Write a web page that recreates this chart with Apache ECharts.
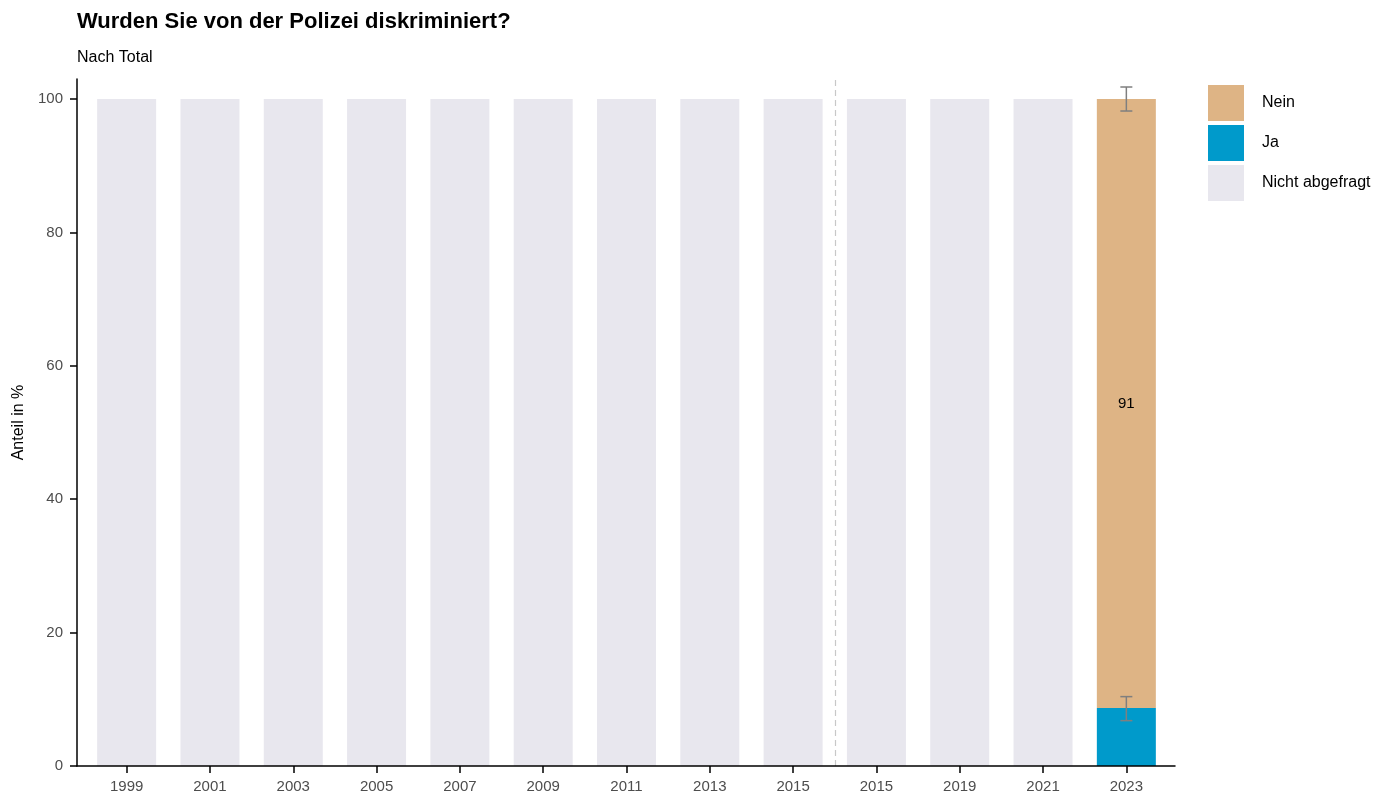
<!DOCTYPE html>
<html><head><meta charset="utf-8">
<script src="https://cdn.jsdelivr.net/npm/echarts@6/dist/echarts.min.js"></script>
<style>html,body{margin:0;padding:0;background:#fff}#c{width:1392px;height:797px}</style>
</head><body><div id="c"></div>
<script>
const categories = ['1999','2001','2003','2005','2007','2009','2011','2013','2015','2015','2019','2021','2023'];
const nichtAbgefragt = [100,100,100,100,100,100,100,100,100,100,100,100,null];
const ja = [null,null,null,null,null,null,null,null,null,null,null,null,8.7];
const nein = [null,null,null,null,null,null,null,null,null,null,null,null,91.3];
const jaErr = [[12, 6.8, 10.4]];
const neinErr = [[12, 98.2, 101.8]];
const yTicks = [0,20,40,60,80,100];
const separatorPos = 8.5;

const FONT = 'Liberation Sans, Arial, Helvetica, sans-serif';
const chart = echarts.init(document.getElementById('c'), null, {renderer:'canvas'});

function errRender(params, api){
  const x = api.value(0);
  const lo = api.coord([x, api.value(1)]);
  const hi = api.coord([x, api.value(2)]);
  const cap = 6;
  const st = {stroke:'#7f7f7f', lineWidth:1.5};
  return {type:'group', children:[
    {type:'line', shape:{x1:lo[0],y1:lo[1],x2:hi[0],y2:hi[1]}, style:st},
    {type:'line', shape:{x1:lo[0]-cap,y1:lo[1],x2:lo[0]+cap,y2:lo[1]}, style:st},
    {type:'line', shape:{x1:hi[0]-cap,y1:hi[1],x2:hi[0]+cap,y2:hi[1]}, style:st}
  ]};
}

const option = {
  animation:false,
  textStyle:{fontFamily:FONT},
  title:[
    {text:'Wurden Sie von der Polizei diskriminiert?', left:72, top:6, textStyle:{fontSize:22, fontWeight:'bold', color:'#000', fontFamily:FONT}},
    {text:'Nach Total', left:72, top:45, textStyle:{fontSize:16, fontWeight:'normal', color:'#000', fontFamily:FONT}}
  ],
  legend:{
    orient:'vertical', left:1203, top:80, itemWidth:36, itemHeight:36, itemGap:4, icon:'rect',
    data:['Nein','Ja','Nicht abgefragt'],
    textStyle:{fontSize:16, color:'#000', fontFamily:FONT, padding:[3,0,0,13]}
  },
  grid:[
    {left:77, right:217, top:79, bottom:31},
    {left:85, right:224, top:79, bottom:31}
  ],
  xAxis:[
    {gridIndex:0, type:'value', min:0, max:1, z:10, axisLine:{show:true, lineStyle:{color:'#000', width:1.5}}, axisTick:{show:false}, axisLabel:{show:false}, splitLine:{show:false}},
    {gridIndex:1, type:'category', data:categories, axisLine:{show:false},
      axisTick:{show:true, alignWithLabel:true, length:7, lineStyle:{color:'#000', width:1.5}},
      axisLabel:{fontSize:15, color:'#4d4d4d', margin:13, interval:0, fontFamily:FONT}},
    {gridIndex:1, type:'value', min:-0.5, max:12.5, show:false}
  ],
  yAxis:[
    {gridIndex:0, type:'value', min:0, max:103, z:10,
      name:'Anteil in %', nameLocation:'middle', nameGap:50, nameTextStyle:{fontSize:16, color:'#000', fontFamily:FONT},
      axisLine:{show:true, lineStyle:{color:'#000', width:1.5}},
      axisTick:{show:true, length:7, customValues:yTicks, lineStyle:{color:'#000', width:1.5}},
      axisLabel:{fontSize:15, color:'#4d4d4d', margin:14, customValues:yTicks, fontFamily:FONT},
      splitLine:{show:false}},
    {gridIndex:1, type:'value', min:0, max:103, show:false}
  ],
  series:[
    {name:'Nicht abgefragt', type:'bar', xAxisIndex:1, yAxisIndex:1, stack:'t', data:nichtAbgefragt, barWidth:59, itemStyle:{color:'#e8e7ee'}},
    {name:'Ja', type:'bar', xAxisIndex:1, yAxisIndex:1, stack:'t', data:ja, barWidth:59, itemStyle:{color:'#009acb'}},
    {name:'Nein', type:'bar', xAxisIndex:1, yAxisIndex:1, stack:'t', data:nein, barWidth:59, itemStyle:{color:'#deb485'},
      label:{show:true, position:'inside', fontSize:15, color:'#000', fontFamily:FONT, formatter:p=>Math.round(p.value)}},
    {name:'errJa', type:'custom', xAxisIndex:1, yAxisIndex:1, data:jaErr, renderItem:errRender, z:5},
    {name:'errNein', type:'custom', xAxisIndex:1, yAxisIndex:1, data:neinErr, renderItem:errRender, z:5},
    {name:'sep', type:'line', xAxisIndex:2, yAxisIndex:1, data:[], 
      markLine:{silent:true, symbol:'none', label:{show:false}, lineStyle:{color:'#c8c8c8', type:[6,4], width:1.2},
        data:[{xAxis:separatorPos}]}}
  ]
};
chart.setOption(option);
</script></body></html>
